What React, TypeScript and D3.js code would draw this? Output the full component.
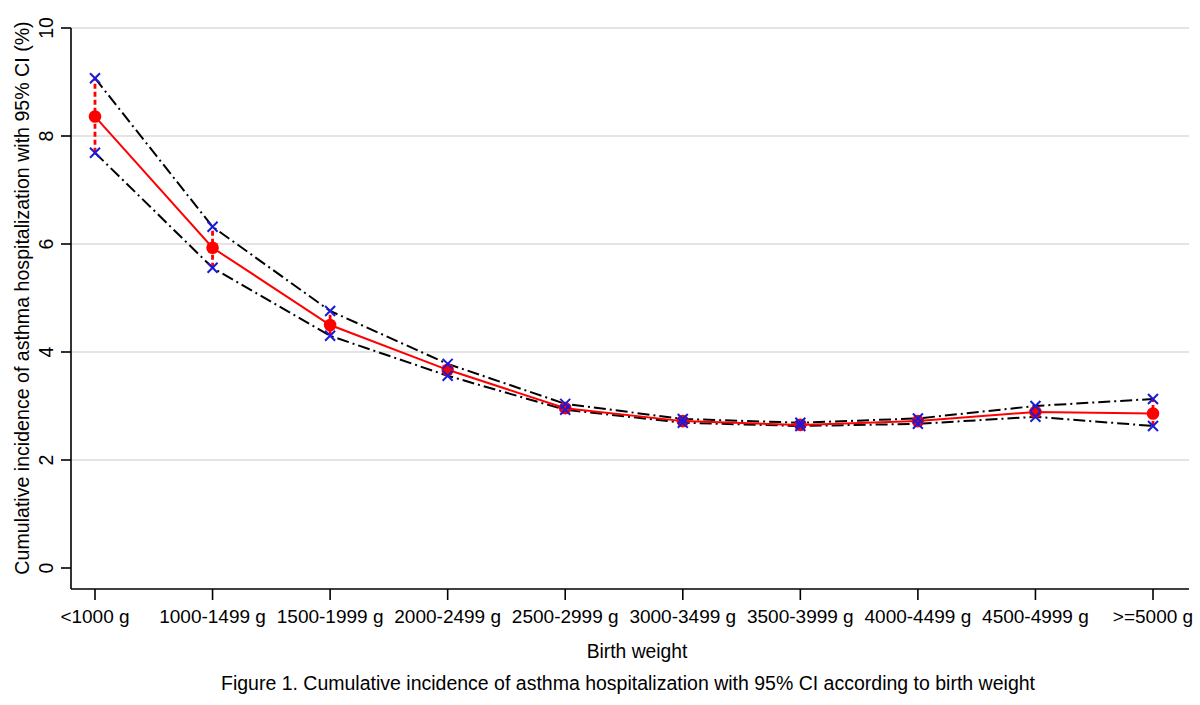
import React from "react";
import * as d3 from "d3";

const categories = [
  "<1000 g", "1000-1499 g", "1500-1999 g", "2000-2499 g", "2500-2999 g",
  "3000-3499 g", "3500-3999 g", "4000-4499 g", "4500-4999 g", ">=5000 g",
];
const estimate = [8.36, 5.93, 4.5, 3.67, 2.96, 2.72, 2.65, 2.72, 2.89, 2.86];
const upperCI = [9.07, 6.32, 4.76, 3.78, 3.04, 2.76, 2.69, 2.77, 3.0, 3.13];
const lowerCI = [7.69, 5.56, 4.3, 3.56, 2.93, 2.69, 2.63, 2.67, 2.8, 2.63];
const yTicks = [0, 2, 4, 6, 8, 10];

const W = 1200;
const H = 705;
const left = 71;
const right = 1189;
const axisY = 589;
const FONT = "'Liberation Sans', Arial, sans-serif";

export default function App() {
  const x = d3.scalePoint<string>().domain(categories).range([95, 1153]);
  const y = d3.scaleLinear().domain([0, 10]).range([568, 28]);
  const line = d3
    .line<number>()
    .x((_, i) => x(categories[i])!)
    .y((d) => y(d));

  const xMark = (cx: number, cy: number, s: number) =>
    `M${cx - s},${cy - s}L${cx + s},${cy + s}M${cx - s},${cy + s}L${cx + s},${cy - s}`;

  return (
    <svg
      width={W}
      height={H}
      style={{ position: "absolute", left: 0, top: 0, background: "#fff" }}
      fontFamily={FONT}
    >
      <rect x={0} y={0} width={W} height={H} fill="#fff" />
      {/* gridlines */}
      {yTicks.filter((t) => t > 0).map((t) => (
        <line key={t} x1={left} x2={right} y1={y(t)} y2={y(t)} stroke="#e4e4e4" strokeWidth={2} />
      ))}
      {/* axes */}
      <line x1={left} x2={left} y1={y(10)} y2={axisY} stroke="#000" strokeWidth={1.6} />
      <line x1={left} x2={right} y1={axisY} y2={axisY} stroke="#000" strokeWidth={1.6} />
      {yTicks.map((t) => (
        <g key={t}>
          <line x1={left - 10} x2={left} y1={y(t)} y2={y(t)} stroke="#000" strokeWidth={1.6} />
          <text
            transform={`translate(${53},${y(t)}) rotate(-90)`}
            textAnchor="middle"
            fontSize={19.5}
            fill="#000"
          >
            {t}
          </text>
        </g>
      ))}
      {categories.map((c) => (
        <g key={c}>
          <line x1={x(c)} x2={x(c)} y1={axisY} y2={axisY + 11} stroke="#000" strokeWidth={1.6} />
          <text x={x(c)} y={623} textAnchor="middle" fontSize={19} fill="#000">
            {c}
          </text>
        </g>
      ))}
      {/* axis titles */}
      <text
        transform={`translate(${29},${y(5)}) rotate(-90)`}
        textAnchor="middle"
        fontSize={19.6}
        fill="#000"
      >
        Cumulative incidence of asthma hospitalization with 95% CI (%)
      </text>
      <text x={637} y={658} textAnchor="middle" fontSize={19.3} fill="#000">
        Birth weight
      </text>
      <text x={628} y={690} textAnchor="middle" fontSize={19.5} fill="#000">
        Figure 1. Cumulative incidence of asthma hospitalization with 95% CI according to birth weight
      </text>

      {/* CI lines */}
      <path d={line(upperCI)!} fill="none" stroke="#000" strokeWidth={2} strokeDasharray="12,4,2,4" />
      <path d={line(lowerCI)!} fill="none" stroke="#000" strokeWidth={2} strokeDasharray="12,4,2,4" />
      {/* CI spikes */}
      {categories.map((c, i) => (
        <line
          key={c}
          x1={x(c)}
          x2={x(c)}
          y1={y(lowerCI[i])}
          y2={y(upperCI[i])}
          stroke="#f00"
          strokeWidth={2.8}
          strokeDasharray="5,3"
        />
      ))}
      {/* estimate line */}
      <path d={line(estimate)!} fill="none" stroke="#f00" strokeWidth={2} />
      {estimate.map((v, i) => (
        <circle key={i} cx={x(categories[i])} cy={y(v)} r={6.3} fill="#f00" />
      ))}
      {/* CI markers */}
      {categories.map((c, i) => (
        <g key={c}>
          <path d={xMark(x(c)!, y(upperCI[i]), 5)} stroke="#1a1ad8" strokeWidth={2} fill="none" />
          <path d={xMark(x(c)!, y(lowerCI[i]), 5)} stroke="#1a1ad8" strokeWidth={2} fill="none" />
        </g>
      ))}
    </svg>
  );
}
